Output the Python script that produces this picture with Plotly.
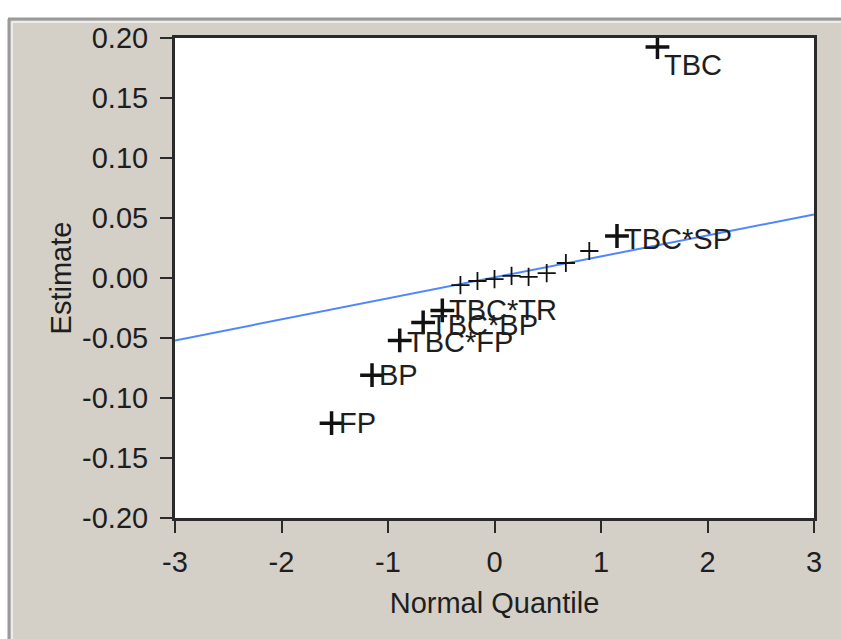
import plotly.graph_objects as go

# Normal quantiles and estimates
quantiles = [-1.53, -1.15, -0.89, -0.67, -0.49, -0.32, -0.16, 0.00,
             0.16, 0.32, 0.49, 0.67, 0.89, 1.15, 1.53]
estimates = [-0.121, -0.081, -0.052, -0.037, -0.027, -0.006, -0.0025, -0.001,
             0.0017, 0.001, 0.004, 0.0125, 0.0225, 0.035, 0.1925]
labels = ["FP", "BP", "TBC*FP", "TBC*BP", "TBC*TR", "", "", "",
          "", "", "", "", "", "TBC*SP", "TBC"]
label_yshift = [0, 0, -2, -3, 0, 0, 0, 0, 0, 0, 0, 0, 0, -3, -18]

# Reference line
line_x = [-3, 3]
line_y = [-0.052, 0.053]

x_ticks = [-3, -2, -1, 0, 1, 2, 3]
x_ticktext = ["-3", "-2", "-1", "0", "1", "2", "3"]
y_ticks = [-0.20, -0.15, -0.10, -0.05, 0.00, 0.05, 0.10, 0.15, 0.20]
y_ticktext = ["-0.20", "-0.15", "-0.10", "-0.05", "0.00", "0.05", "0.10", "0.15", "0.20"]

FONT = "Liberation Sans, Arial, sans-serif"
TXT = "#1e1e1e"
BG = "#d4d0c8"

big_x = [q for q, l in zip(quantiles, labels) if l]
big_y = [e for e, l in zip(estimates, labels) if l]
small_x = [q for q, l in zip(quantiles, labels) if not l]
small_y = [e for e, l in zip(estimates, labels) if not l]

fig = go.Figure()
fig.add_trace(go.Scatter(x=line_x, y=line_y, mode="lines",
                         line=dict(color="#4f86ff", width=2), hoverinfo="skip"))
fig.add_trace(go.Scatter(x=small_x, y=small_y, mode="markers",
                         marker=dict(symbol="cross-thin", size=13,
                                     line=dict(color="#111111", width=1.8))))
fig.add_trace(go.Scatter(x=big_x, y=big_y, mode="markers",
                         marker=dict(symbol="cross-thin", size=17,
                                     line=dict(color="#111111", width=3.5))))

for q, e, l, ys in zip(quantiles, estimates, labels, label_yshift):
    if l:
        fig.add_annotation(x=q, y=e, text=l, showarrow=False, xanchor="left",
                           yanchor="middle", xshift=5, yshift=ys,
                           font=dict(family=FONT, size=29, color=TXT))

# figure-pixel helpers (plot area: left 175, right 814, top 38, bottom 518)
def px(fx):
    return (fx - 175) / 639

def py(fy):
    return (518 - fy) / 480

shapes = [
    dict(type="rect", xref="paper", yref="paper", x0=-0.3, x1=1.1,
         y0=py(18), y1=1.2, fillcolor="white", line=dict(width=0)),
    dict(type="rect", xref="paper", yref="paper", x0=-0.3, x1=px(8),
         y0=-0.4, y1=1.2, fillcolor="white", line=dict(width=0)),
    dict(type="line", xref="paper", yref="paper", x0=px(8), x1=1.1,
         y0=py(19), y1=py(19), line=dict(color="#9a9a9a", width=3)),
    dict(type="line", xref="paper", yref="paper", x0=px(9), x1=px(9),
         y0=-0.4, y1=py(19), line=dict(color="#9a9a9a", width=3)),
    dict(type="line", xref="paper", yref="paper", x0=px(12), x1=1.1,
         y0=py(22), y1=py(22), line=dict(color="#ececec", width=2)),
    dict(type="line", xref="paper", yref="paper", x0=px(12), x1=px(12),
         y0=-0.4, y1=py(22), line=dict(color="#ececec", width=2)),
]

fig.update_layout(
    width=841, height=639,
    margin=dict(l=175, r=27, t=38, b=121),
    paper_bgcolor=BG, plot_bgcolor="white",
    showlegend=False,
    font=dict(family=FONT, size=29, color=TXT),
    shapes=shapes,
    xaxis=dict(range=[-3, 3], tickvals=x_ticks, ticktext=x_ticktext,
               showgrid=False, zeroline=False, showline=True, mirror=True,
               linecolor="#2a2a2a", linewidth=3, ticks="outside", ticklen=12,
               tickwidth=2, tickcolor="#2a2a2a", ticklabelstandoff=4,
               title=dict(text="Normal Quantile", standoff=16,
                          font=dict(family=FONT, size=29, color=TXT)),
               tickfont=dict(family=FONT, size=29, color=TXT)),
    yaxis=dict(range=[-0.2, 0.2], tickvals=y_ticks, ticktext=y_ticktext,
               showgrid=False, zeroline=False, showline=True, mirror=True,
               linecolor="#2a2a2a", linewidth=3, ticks="outside", ticklen=12,
               tickwidth=2, tickcolor="#2a2a2a", ticklabelstandoff=6,
               title=dict(text="Estimate", standoff=2,
                          font=dict(family=FONT, size=29, color=TXT)),
               tickfont=dict(family=FONT, size=29, color=TXT)),
)

fig.write_html(
    "out.html",
    config={"displayModeBar": False},
    post_script="document.body.style.margin='0';document.body.style.overflow='hidden';",
)
